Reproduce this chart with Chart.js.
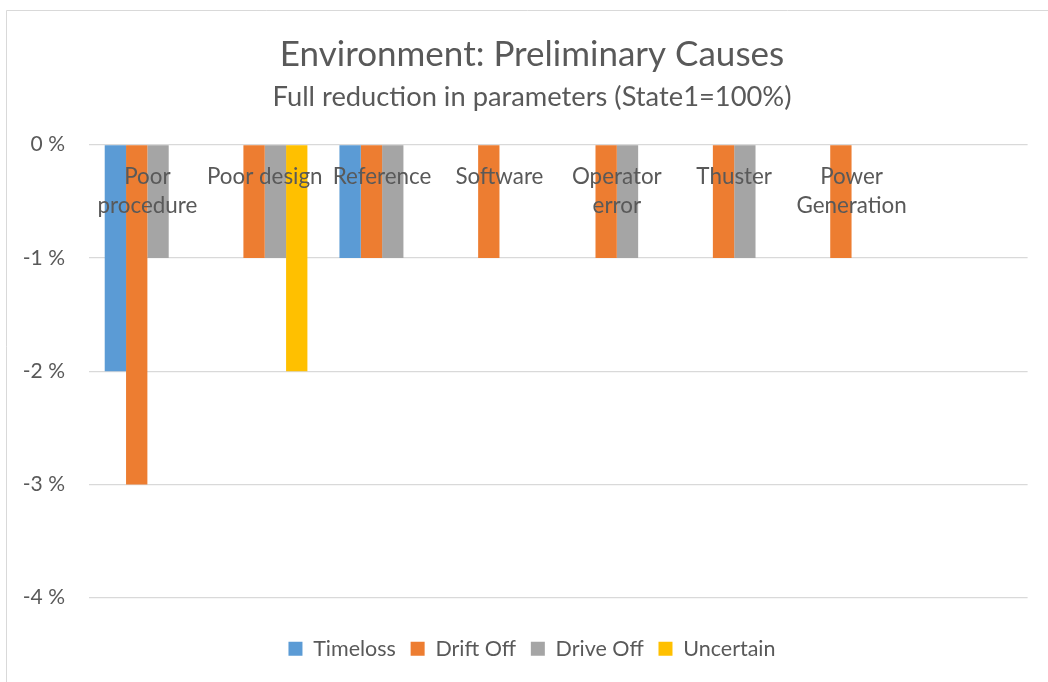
<!DOCTYPE html>
<html>
<head>
<meta charset="utf-8">
<script src="https://cdn.jsdelivr.net/npm/chart.js@4.4.1/dist/chart.umd.min.js"></script>
<style>
  html, body { margin: 0; padding: 0; background: #fff; }
  #wrap { width: 1048px; height: 682px; }
</style>
</head>
<body>
<div id="wrap"><canvas id="chart"></canvas></div>
<script>
// categories (last slot is an empty column, as in the sheet)
const categories = [['Poor', 'procedure'], 'Poor design', 'Reference', 'Software', ['Operator', 'error'], 'Thuster', ['Power', 'Generation'], ''];

// change in % per cause
const timeloss  = [-2, null, -1, null, null, null, null, null];
const driftOff  = [-3, -1, -1, -1, -1, -1, -1, null];
const driveOff  = [-1, -1, -1, null, -1, -1, null, null];
const uncertain = [null, -2, null, null, null, null, null, null];

const yMin = -4;
const yMax = 0;
const yStep = 1;

const FONT = 'Lato, "Open Sans", sans-serif';
const TEXT = '#595959';
const GRID = '#d9d9d9';

// white page + the thin frame around the chart object
const framePlugin = {
  id: 'frame',
  beforeDraw: chart => {
    let ctx = chart.ctx;
    ctx.save();
    ctx.fillStyle = '#fff';
    ctx.fillRect(0, 0, chart.width, chart.height);
    ctx.strokeStyle = GRID;
    ctx.lineWidth = 1;
    ctx.beginPath();
    ctx.moveTo(6.5, chart.height);
    ctx.lineTo(6.5, 10.5);
    ctx.lineTo(chart.width, 10.5);
    ctx.stroke();
    ctx.restore();
  }
};

// the left layout padding only serves to shift the titles; let the
// y tick labels use that room too instead of being clipped
const yRoomPlugin = {
  id: 'yRoom',
  afterLayout: chart => {
    const y = chart.scales.y;
    y.left = 0;
    y.width = y.right;
  }
};

const barDefaults = { borderWidth: 0, barPercentage: 1, categoryPercentage: 0.727 };

var chartConfig = {
  type: 'bar',
  data: {
    labels: categories,
    datasets: [
      Object.assign({ label: 'Timeloss',  data: timeloss,  backgroundColor: '#5b9bd5' }, barDefaults),
      Object.assign({ label: 'Drift Off', data: driftOff,  backgroundColor: '#ed7d31' }, barDefaults),
      Object.assign({ label: 'Drive Off', data: driveOff,  backgroundColor: '#a5a5a5' }, barDefaults),
      Object.assign({ label: 'Uncertain', data: uncertain, backgroundColor: '#ffc000' }, barDefaults)
    ]
  },
  options: {
    responsive: false,
    animation: false,
    layout: { padding: { top: 0, left: 36.4, right: 20.4, bottom: 12.5 } },
    scales: {
      x: {
        type: 'category',
        position: { y: 0 },
        offset: true,
        grid: { display: false, drawTicks: false },
        border: { display: false },
        ticks: {
          z: 1,
          color: TEXT,
          padding: 18,
          autoSkip: false,
          maxRotation: 0,
          font: { family: FONT, size: 22.4, lineHeight: 1.27 }
        }
      },
      // spacer between the plot and the legend
      x2: {
        type: 'category',
        position: 'bottom',
        display: true,
        grid: { display: false, drawTicks: false },
        border: { display: false },
        ticks: { display: false },
        afterFit: s => { s.height = 25.6; }
      },
      y: {
        min: yMin,
        max: yMax,
        afterFit: s => { s.width = 52.3; },
        grid: { color: GRID, lineWidth: 1.3, drawTicks: false },
        border: { display: false },
        ticks: {
          stepSize: yStep,
          color: TEXT,
          padding: 23.7,
          font: { family: FONT, size: 21 },
          callback: v => v + ' %'
        }
      }
    },
    plugins: {
      title: {
        display: true,
        text: 'Environment: Preliminary Causes',
        color: TEXT,
        font: { family: FONT, size: 35, weight: 'normal', lineHeight: 1.2 },
        padding: { top: 34, bottom: 0 }
      },
      subtitle: {
        display: true,
        text: 'Full reduction in parameters (State1=100%)',
        color: TEXT,
        font: { family: FONT, size: 27.3, weight: 'normal', lineHeight: 1.2 },
        padding: { top: 4.6, bottom: 31.3 }
      },
      legend: {
        position: 'bottom',
        labels: {
          color: TEXT,
          boxWidth: 14,
          boxHeight: 14,
          padding: 14.7,
          font: { family: FONT, size: 21.5 }
        }
      },
      tooltip: { enabled: false }
    }
  },
  plugins: [framePlugin, yRoomPlugin]
};

var canvas = document.getElementById('chart');
canvas.width = 1048;
canvas.height = 682;
var myChart = new Chart(canvas, chartConfig);
</script>
</body>
</html>
